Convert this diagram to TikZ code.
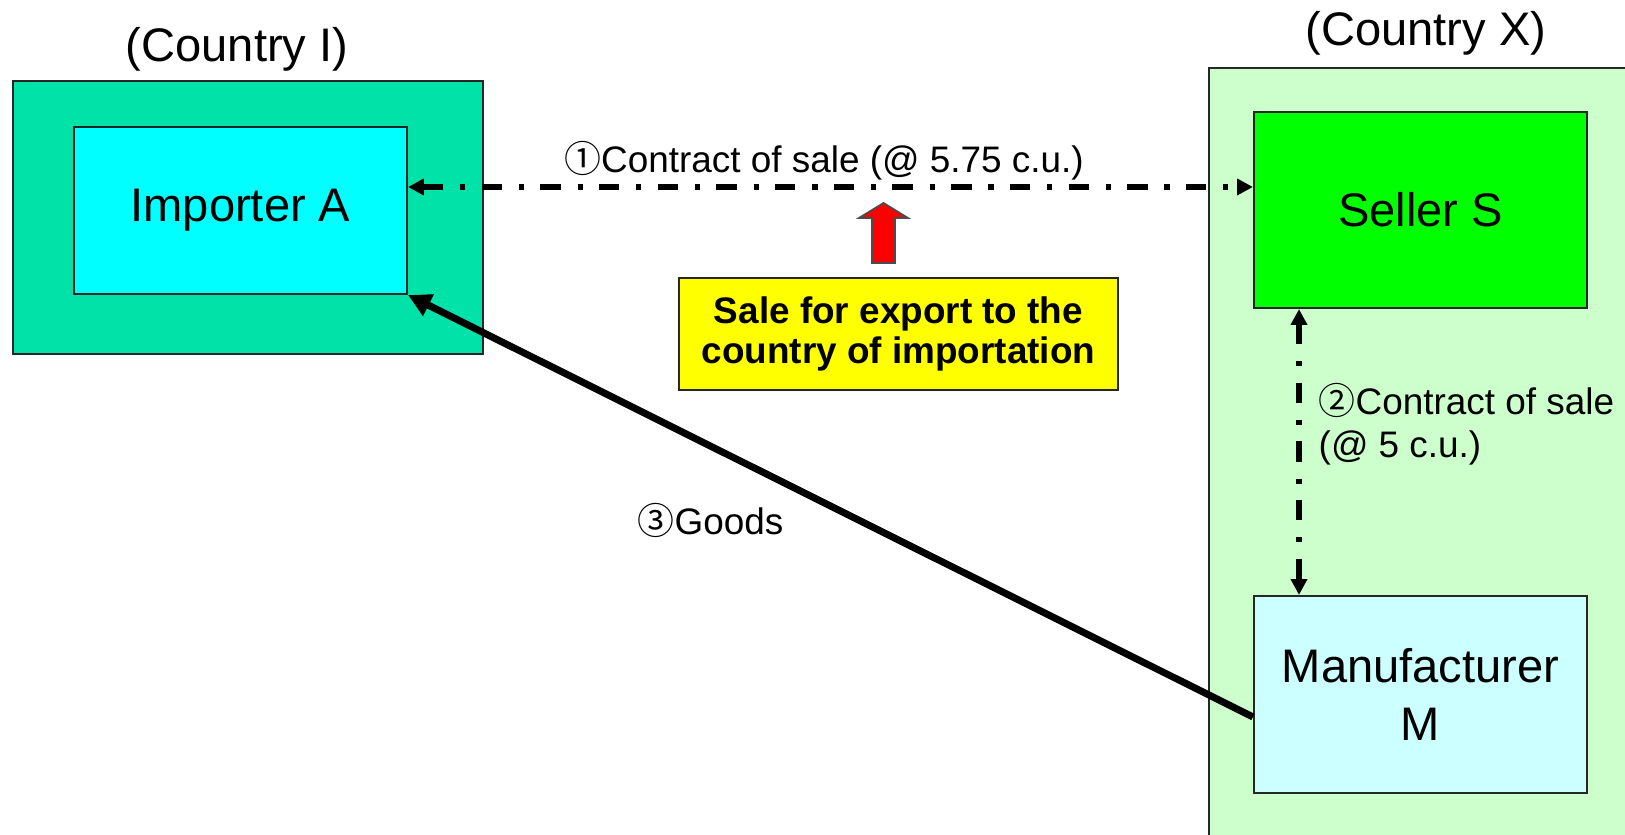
\documentclass[tikz,border=0pt]{standalone}
\usepackage{fontspec}
\setmainfont{Liberation Sans}
\newfontfamily\circfont{Noto Sans CJK JP}
\usetikzlibrary{arrows.meta}
\definecolor{countryI}{RGB}{0,226,168}
\definecolor{importer}{RGB}{0,255,255}
\definecolor{countryX}{RGB}{204,255,204}
\definecolor{seller}{RGB}{0,255,0}
\definecolor{manuf}{RGB}{204,255,255}
\definecolor{note}{RGB}{255,255,0}
\newcommand{\circno}[1]{{\circfont #1}}

\begin{document}
\begin{tikzpicture}
	\useasboundingbox (0,0) rectangle (16.25,8.35); \clip (0,0) rectangle (16.25,8.35);
	\tikzstyle{box} = [draw=black!85, line width=0.6pt, inner sep=0pt, align=center, font=\fontsize{13.4}{16.5}\selectfont]
	\tikzstyle{small} = [inner sep=0pt, font=\fontsize{10.5}{12.4}\selectfont]
	\tikzstyle{deal} = [line width=1.6pt, dash pattern=on 5.8pt off 4.8pt on 1.5pt off 4.6pt, {Triangle[length=4.5pt,width=4.5pt]}-{Triangle[length=4.5pt,width=4.5pt]}]
	
	\node[box, fill=countryI, minimum width=4.7cm, minimum height=2.73cm] (ci) at (2.48,6.175) {}; \node[box, fill=countryX, minimum width=4.6cm, minimum height=8cm, anchor=north west] (cx) at (12.08,7.68) {};
	\node[box, draw=none, fill=none] (lblI) at (2.37,7.86) {(Country I)}; \node[box, draw=none, fill=none] (lblX) at (14.26,8.02) {(Country X)};
	\node[box, fill=importer, minimum width=3.33cm, minimum height=1.67cm] (imp) at (2.405,6.245) {Importer A}; \node[box, fill=seller, minimum width=3.33cm, minimum height=1.96cm] (sell) at (14.205,6.25) {Seller S}; \node[box, fill=manuf, minimum width=3.33cm, minimum height=1.97cm] (manu) at (14.205,1.405) {Manufacturer\\M};
	\node[box, fill=note, minimum width=4.39cm, minimum height=1.12cm, font=\fontsize{10.5}{11.4}\selectfont\bfseries] (sale) at (8.985,5.01) {Sale for export to the\\country of importation};
	\draw[draw=black!70, fill=red, line width=0.5pt] (8.72,5.72) -- (8.72,6.17) -- (8.59,6.17) -- (8.835,6.32) -- (9.08,6.17) -- (8.95,6.17) -- (8.95,5.72) -- cycle;
	
	\node[small, anchor=base] (lbl1) at (8.24,6.62) {\circno{①}Contract of sale (@ 5.75 c.u.)}; \node[small, align=left, anchor=base west] (lbl2) at (13.18,3.77) {\circno{②}Contract of sale\\(@ 5 c.u.)}; \node[small, anchor=base] (lbl3) at (7.105,3.0) {\circno{③}Goods};
	
	\draw[deal] ([yshift=0.235cm]imp.east) -- ([yshift=0.23cm]sell.west); \draw[deal] ([xshift=-1.215cm]sell.south) -- ([xshift=-1.215cm]manu.north);
	\draw[line width=2pt, -{Triangle[length=6.5pt,width=6.5pt]}] ([yshift=-0.225cm]manu.west) -- (imp.south east);
\end{tikzpicture}
\end{document}
